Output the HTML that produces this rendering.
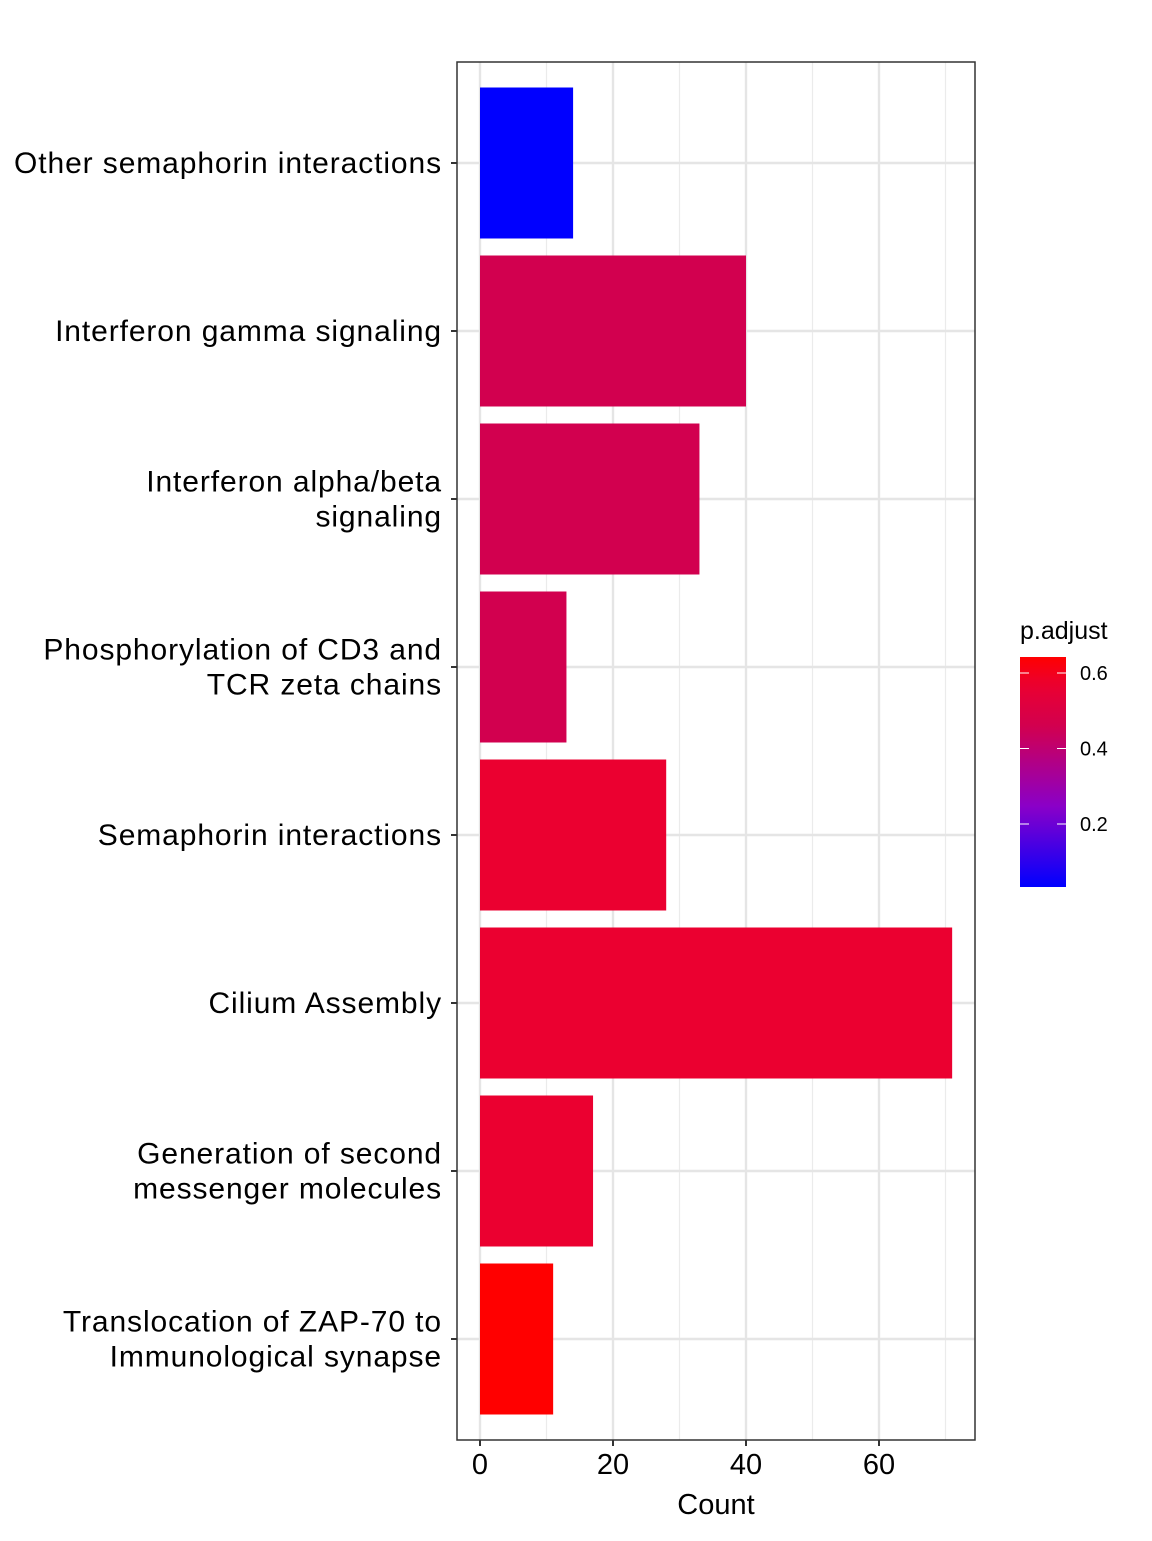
<!DOCTYPE html>
<html><head><meta charset="utf-8"><style>
body{margin:0;background:#fff}
svg text{font-family:"Liberation Sans",Arial,sans-serif;fill:#000}
</style></head><body>
<svg id="c" width="1152" height="1536" xmlns="http://www.w3.org/2000/svg"></svg>
<script>
const categories=["Other semaphorin interactions","Interferon gamma signaling","Interferon alpha/beta|signaling","Phosphorylation of CD3 and|TCR zeta chains","Semaphorin interactions","Cilium Assembly","Generation of second|messenger molecules","Translocation of ZAP-70 to|Immunological synapse"];
const counts=[14,40,33,13,28,71,17,11];
const padj=[0.033,0.459,0.459,0.459,0.569,0.569,0.569,0.642];
const xTicks=[0,20,40,60];
const legendTicks=[0.2,0.4,0.6];
const NS="http://www.w3.org/2000/svg";
const svg=document.getElementById('c');
function el(t,a,p){const e=document.createElementNS(NS,t);for(const k in a)e.setAttribute(k,a[k]);(p||svg).appendChild(e);return e;}
const L=457,R=975,T=62,B=1440;
const x=v=>480+v*(613-480)/20;
const y=i=>163+i*168;
const pmin=0.033,pmax=0.642;
const stops=[[0,[0,0,255]],[0.35,[138,0,200]],[0.7,[210,0,79]],[0.88,[235,0,48]],[1,[255,0,0]]];
function col(p){let t=(p-pmin)/(pmax-pmin);t=Math.max(0,Math.min(1,t));
for(let i=1;i<stops.length;i++){if(t<=stops[i][0]){const a=stops[i-1],b=stops[i];const f=(t-a[0])/(b[0]-a[0]);
const c=a[1].map((v,k)=>Math.round(v+(b[1][k]-v)*f));return `rgb(${c.join(',')})`;}}return 'rgb(255,0,0)';}
for(let v=10;v<=70;v+=20){const g=el('line',{x1:x(v),x2:x(v),y1:T,y2:B,stroke:'#ebebeb','stroke-width':1.2});}
xTicks.forEach(v=>{const g=el('line',{x1:x(v),x2:x(v),y1:T,y2:B,stroke:'#e5e5e5','stroke-width':2.4});});
categories.forEach((c,i)=>{const g=el('line',{x1:L,x2:R,y1:y(i),y2:y(i),stroke:'#e5e5e5','stroke-width':2.4});});
categories.forEach((c,i)=>{const r=el('rect',{x:x(0),y:y(i)-75.5,width:x(counts[i])-x(0),height:151,fill:col(padj[i])});

el('line',{x1:L-6,x2:L,y1:y(i),y2:y(i),stroke:'#333','stroke-width':2});
const lines=c.split('|');
const t=el('text',{x:442,y:0,'text-anchor':'end','font-size':30,'letter-spacing':0.9});

lines.forEach((ln,k)=>{const s=el('tspan',{x:442,y:y(i)+10+(k-(lines.length-1)/2)*35},t);s.textContent=ln;});
});
const fr=el('rect',{x:L,y:T,width:R-L,height:B-T,fill:'none',stroke:'#333','stroke-width':1.5});

xTicks.forEach(v=>{el('line',{x1:x(v),x2:x(v),y1:B,y2:B+6,stroke:'#333','stroke-width':2});
const t=el('text',{x:x(v),y:B+34,'text-anchor':'middle','font-size':29});t.textContent=v;
});
const xt=el('text',{x:716,y:1514,'text-anchor':'middle','font-size':29});xt.textContent='Count';

const lt=el('text',{x:1020,y:639,'font-size':25});lt.textContent='p.adjust';

const defs=el('defs',{});const lg=el('linearGradient',{id:'g',x1:0,y1:1,x2:0,y2:0},defs);
const gTop=657,gBot=887;
const pAt=yy=>0.6+(673-yy)*0.2/75.5;
const pB=pAt(gBot),pT=pAt(gTop);
for(let k=0;k<=20;k++){const p=pB+(pT-pB)*k/20;el('stop',{offset:k/20,'stop-color':col(p)},lg);}
const gr=el('rect',{x:1020,y:gTop,width:46,height:gBot-gTop,fill:'url(#g)'});

legendTicks.forEach(v=>{const yy=673+(0.6-v)*75.5/0.2;
el('line',{x1:1020,x2:1029,y1:yy,y2:yy,stroke:'#fff','stroke-width':1});
el('line',{x1:1057,x2:1066,y1:yy,y2:yy,stroke:'#fff','stroke-width':1});
const t=el('text',{x:1080,y:yy+7,'font-size':20});t.textContent=v.toFixed(1);
});
</script>
</body></html>
